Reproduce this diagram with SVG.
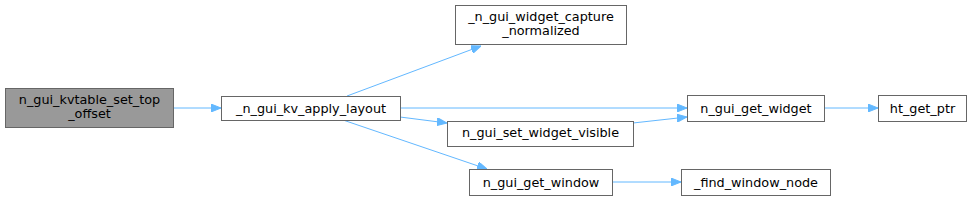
<svg xmlns="http://www.w3.org/2000/svg" width="972" height="201" viewBox="0 0 972 201">
<defs>
<marker id="ah" markerWidth="10" markerHeight="8" refX="10" refY="4" orient="auto" markerUnits="userSpaceOnUse">
<path d="M0,0 L10,4 L0,8 Z" fill="#63b8ff" stroke="#63b8ff"/>
</marker>
</defs>
<style>
.n rect{fill:#fff;stroke:#666;stroke-width:1}
.n.root rect{fill:#999}
.n text{font-family:"DejaVu Sans",sans-serif;font-size:12.8px;fill:#000;text-anchor:middle}
.e{fill:none;stroke:#63b8ff;stroke-width:1;marker-end:url(#ah)}
</style>
<rect width="972" height="201" fill="#fff"/>
<g id="connectors">
<path class="e" d="M173,108 L221,108"/>
<path class="e" d="M347,96 L481,46"/>
<path class="e" d="M400,108 L687,108"/>
<path class="e" d="M400,117 L447,123"/>
<path class="e" d="M633,123 L687,117"/>
<path class="e" d="M343,120 L487,169"/>
<path class="e" d="M612,182 L681,182"/>
<path class="e" d="M824,108 L878,108"/>
</g>
<g id="n_gui_kvtable_set_top_offset" class="n root">
<rect x="5.5" y="88.5" width="168" height="39"/>
<text x="89.5" y="104">n_gui_kvtable_set_top</text>
<text x="89.5" y="118">_offset</text>
</g>
<g id="_n_gui_kv_apply_layout" class="n">
<rect x="221.5" y="96.5" width="179" height="24"/>
<text x="311" y="112.5">_n_gui_kv_apply_layout</text>
</g>
<g id="_n_gui_widget_capture_normalized" class="n">
<rect x="455.5" y="5.5" width="171" height="39"/>
<text x="541" y="21">_n_gui_widget_capture</text>
<text x="541" y="35">_normalized</text>
</g>
<g id="n_gui_get_widget" class="n">
<rect x="687.5" y="95.5" width="137" height="26"/>
<text x="756" y="112.5">n_gui_get_widget</text>
</g>
<g id="n_gui_set_widget_visible" class="n">
<rect x="447.5" y="121.5" width="186" height="25"/>
<text x="540.5" y="137">n_gui_set_widget_visible</text>
</g>
<g id="n_gui_get_window" class="n">
<rect x="469.5" y="169.5" width="143" height="26"/>
<text x="541" y="186.5">n_gui_get_window</text>
</g>
<g id="ht_get_ptr" class="n">
<rect x="878.5" y="95.5" width="88" height="26"/>
<text x="922.5" y="112.5">ht_get_ptr</text>
</g>
<g id="_find_window_node" class="n">
<rect x="681.5" y="169.5" width="149" height="26"/>
<text x="756" y="186.5">_find_window_node</text>
</g>
</svg>
